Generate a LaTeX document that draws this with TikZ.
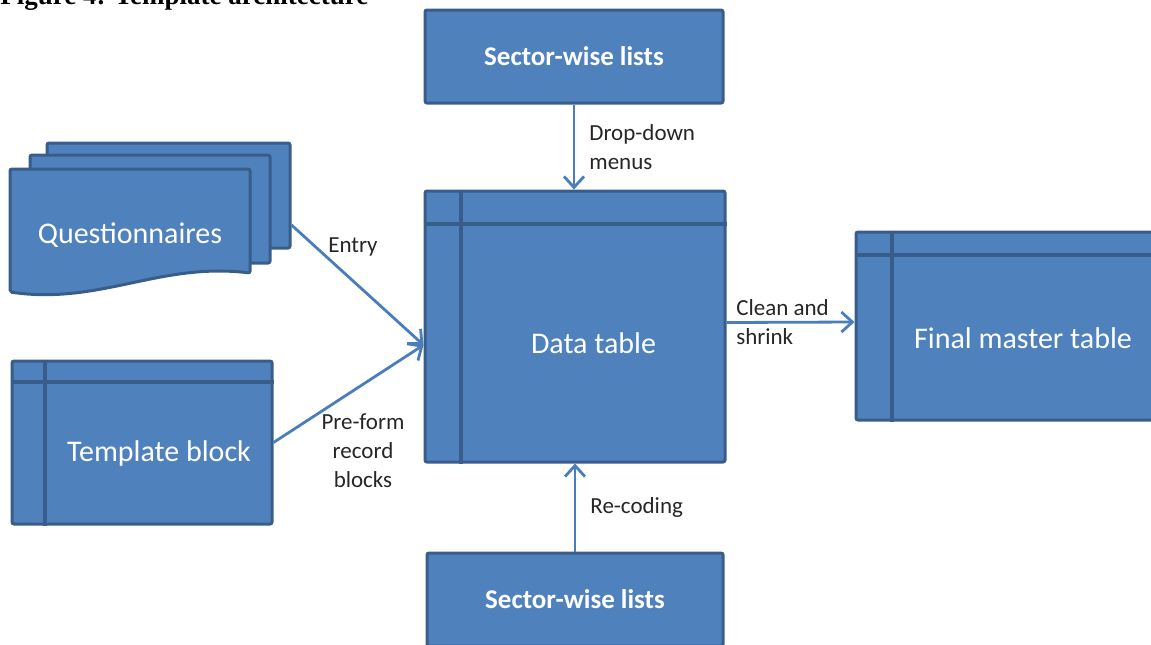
\documentclass[tikz,border=0pt]{standalone}
\usepackage{fontspec}
\setmainfont{Carlito}
\newfontfamily\titlefont{Liberation Serif}
\usetikzlibrary{arrows.meta,calc}

\definecolor{boxblue}{HTML}{4F81BD}
\definecolor{boxedge}{HTML}{385D8A}
\definecolor{linkblue}{HTML}{4A7EBB}

% header row and key column of a table box
\newcommand\tablerules[3]{%
  \draw[rule] ([shift={(0,#3)}]#1.north west) -- ([shift={(0,#3)}]#1.north east);
  \draw[rule] ([shift={(#2,0)}]#1.north west) -- ([shift={(#2,0)}]#1.south west);
}

\begin{document}
\begin{tikzpicture}[x=0.5pt,y=-0.5pt,
    box/.style={draw=boxedge,fill=boxblue,line width=1.5pt,rounded corners=1pt,
      text=white,font=\fontsize{15}{18}\selectfont},
    listbox/.style={box,font=\bfseries\fontsize{13.5}{16}\selectfont},
    rule/.style={draw=boxedge,line width=2pt},
    link/.style={draw=linkblue,line width=1.4pt,-{Straight Barb[length=5.5pt,width=10pt,line width=1.4pt]}},
    note/.style={text=black!85,font=\fontsize{11.5}{14.5}\selectfont,inner sep=1pt}]
  \useasboundingbox (0,0) rectangle (1151,644);

  \node[anchor=base west,inner sep=0pt,font=\titlefont\bfseries\fontsize{13.5}{16}\selectfont] (title) at (0,4) {Figure 4: Template architecture};

  % lists above and below the data table
  \node[listbox,minimum width=149pt,minimum height=46.5pt] (top) at (574,56.5) {Sector-wise lists};
  \node[listbox,minimum width=148pt,minimum height=46.5pt] (bot) at (575,599.5) {Sector-wise lists};

  % tables
  \node[box,minimum width=150pt,minimum height=135.5pt] (data) at (575,326.5) {};
  \tablerules{data}{37}{34}
  \node[box,draw=none,fill=none] (datatxt) at ($(data.south east)!0.5!([shift={(37,34)}]data.north west)$) {Data table};

  \node[box,minimum width=148.5pt,minimum height=94pt] (final) at (1004.5,326) {};
  \tablerules{final}{37}{24}
  \node[box,draw=none,fill=none] (finaltxt) at ($(final.south east)!0.5!([shift={(37,24)}]final.north west)$) {Final master table};

  \node[box,minimum width=130pt,minimum height=81.5pt] (tmpl) at (142,442.5) {};
  \tablerules{tmpl}{34}{22}
  \node[box,draw=none,fill=none] (tmpltxt) at ($(tmpl.south east)!0.5!([shift={(34,22)}]tmpl.north west)$) {Template block};

  % stack of questionnaires
  \node[box,minimum width=121.5pt,minimum height=52.5pt] (qback) at (168.5,195.5) {};
  \node[box,minimum width=120pt,minimum height=54pt] (qmid) at (150,209) {};
  \draw[box] (10,169) -- (250,169) -- (250,273)
    .. controls (160,262) and (100,305) .. (10,292) -- cycle;
  \node[box,draw=none,fill=none] (quest) at (130,235) {Questionnaires};

  \coordinate (qout) at (qback.east |- 0,225);
  \coordinate (datain) at (data.west |- 0,345);

  % connectors
  \draw[link] (top.south) -- (top.south |- data.north)
    node[note,midway,right=6pt,align=left] (dropnote) {Drop-down\\menus};
  \draw[link] (bot.north) -- (bot.north |- data.south)
    node[note,midway,right=6pt] (recodenote) {Re-coding};
  \draw[link] (qout) -- (datain);
  \draw[link] (tmpl.east) -- (datain);
  \draw[link] ([yshift=2pt]data.east) -- ([yshift=2pt]final.west)
    node[note,pos=0.05,anchor=west,align=left] (cleannote) {Clean and\\shrink};
  \node[note] (entrynote) at (353,247) {Entry};
  \node[note,align=center] (prenote) at (363,451) {Pre-form\\record\\blocks};
\end{tikzpicture}
\end{document}
